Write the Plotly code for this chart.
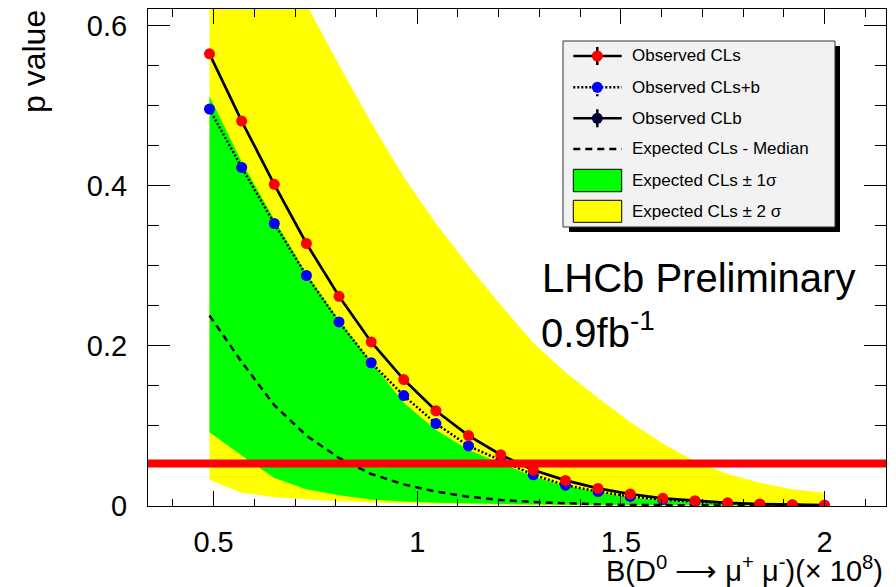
import plotly.graph_objects as go

# ---------------- data ----------------
x_vals = [0.490, 0.569, 0.649, 0.728, 0.808, 0.887, 0.967, 1.046, 1.126, 1.205,
          1.285, 1.364, 1.444, 1.523, 1.603, 1.682, 1.762, 1.841, 1.921, 2.000]

cls_obs = [0.565, 0.481, 0.402, 0.328, 0.262, 0.205, 0.158, 0.119, 0.088, 0.064,
           0.045, 0.032, 0.022, 0.015, 0.0096, 0.0066, 0.0040, 0.0025, 0.0016, 0.0010]

clsb_obs = [0.496, 0.423, 0.353, 0.288, 0.230, 0.179, 0.138, 0.103, 0.075, 0.057,
            0.039, 0.026, 0.018, 0.012, 0.0080, 0.0055, 0.0033, 0.0020, 0.0013, 0.0008]

exp_median = [0.238, 0.180, 0.126, 0.088, 0.060, 0.040, 0.027, 0.018, 0.0115, 0.0075,
              0.0050, 0.0032, 0.0021, 0.0014, 0.0009, 0.0006, 0.0004, 0.0003, 0.0002, 0.0001]

band1_hi = [0.512, 0.430, 0.358, 0.290, 0.232, 0.180, 0.129, 0.095, 0.070, 0.054,
            0.037, 0.025, 0.017, 0.011, 0.0070, 0.0045, 0.0030, 0.0020, 0.0013, 0.0010]
band1_lo = [0.092, 0.063, 0.035, 0.021, 0.0133, 0.0080, 0.0055, 0.0040, 0.0030, 0.0025,
            0.0020, 0.0015, 0.0012, 0.0010, 0.0008, 0.0006, 0.0005, 0.0004, 0.0003, 0.0002]

band2_hi = [0.900, 0.800, 0.710, 0.627, 0.551, 0.479, 0.411, 0.353, 0.300, 0.251,
            0.204, 0.167, 0.135, 0.105, 0.078, 0.056, 0.040, 0.029, 0.021, 0.0167]
band2_lo = [0.0325, 0.0167, 0.0110, 0.0083, 0.0058, 0.0045, 0.0035, 0.0028, 0.0020, 0.0015,
            0.0010, 0.0008, 0.0006, 0.0005, 0.0004, 0.0003, 0.0002, 0.0002, 0.0001, 0.0001]

cl_threshold = 0.053

legend_labels = ["Observed CLs", "Observed CLs+b", "Observed CLb",
                 "Expected CLs - Median", "Expected CLs \u00b1 1\u03c3", "Expected CLs \u00b1 2 \u03c3"]

x_range = [0.339, 2.151]
y_range = [0.0, 0.621]

# ---------------- layout geometry ----------------
W, H = 896, 587
L, R, T, B = 148, 10, 9, 81
PW = W - L - R
PH = H - T - B
FONT = "Liberation Sans, Arial, Helvetica, sans-serif"


def px2x(px):
    return (px - L) / PW


def py2y(py):
    return (H - B - py) / PH


fig = go.Figure()

# +-2 sigma band
fig.add_trace(go.Scatter(
    x=x_vals + x_vals[::-1], y=band2_hi + band2_lo[::-1],
    fill="toself", fillcolor="#ffff00", line=dict(width=0), mode="lines",
    hoverinfo="skip", showlegend=False))
# +-1 sigma band
fig.add_trace(go.Scatter(
    x=x_vals + x_vals[::-1], y=band1_hi + band1_lo[::-1],
    fill="toself", fillcolor="#00ff00", line=dict(width=0), mode="lines",
    hoverinfo="skip", showlegend=False))
# median
fig.add_trace(go.Scatter(
    x=x_vals, y=exp_median, mode="lines",
    line=dict(color="black", width=2.5, dash="7px,5px"), showlegend=False))
# CLs+b dotted line
fig.add_trace(go.Scatter(
    x=x_vals, y=clsb_obs, mode="lines",
    line=dict(color="black", width=2.5, dash="2px,2px"), showlegend=False))
# CLs solid line
fig.add_trace(go.Scatter(
    x=x_vals, y=cls_obs, mode="lines",
    line=dict(color="black", width=2.7), showlegend=False))
# markers
fig.add_trace(go.Scatter(
    x=x_vals, y=clsb_obs, mode="markers",
    marker=dict(color="#0000ff", size=11, line=dict(width=0)), showlegend=False))
fig.add_trace(go.Scatter(
    x=x_vals, y=cls_obs, mode="markers",
    marker=dict(color="#ff0000", size=11, line=dict(width=0)), showlegend=False))

shapes = []
# 95% CL line
shapes.append(dict(type="line", xref="paper", yref="y", x0=0, x1=1,
                   y0=cl_threshold, y1=cl_threshold,
                   line=dict(color="#ff0000", width=8), layer="above"))

# legend box with shadow
shapes.append(dict(type="rect", xref="paper", yref="paper",
                   x0=px2x(569), x1=px2x(840), y0=py2y(232), y1=py2y(46),
                   fillcolor="black", line=dict(width=0), layer="above"))
shapes.append(dict(type="rect", xref="paper", yref="paper",
                   x0=px2x(563), x1=px2x(835), y0=py2y(227), y1=py2y(41),
                   fillcolor="#f2f2f2", line=dict(color="#333333", width=1), layer="above"))

rows = [56, 87.3, 118.3, 149, 180, 211]
sx0, sx1, mx = 573.3, 621.7, 597.3
annotations = []


def pline(x0, y0, x1, y1, color="black", width=2.5, dash="solid"):
    shapes.append(dict(type="line", xref="paper", yref="paper",
                       x0=px2x(x0), x1=px2x(x1), y0=py2y(y0), y1=py2y(y1),
                       line=dict(color=color, width=width, dash=dash), layer="above"))


def pcircle(cx, cy, r, color):
    shapes.append(dict(type="circle", xref="paper", yref="paper",
                       x0=px2x(cx - r), x1=px2x(cx + r), y0=py2y(cy + r), y1=py2y(cy - r),
                       fillcolor=color, line=dict(width=0), layer="above"))


def prect(x0, y0, x1, y1, color):
    shapes.append(dict(type="rect", xref="paper", yref="paper",
                       x0=px2x(x0), x1=px2x(x1), y0=py2y(y1), y1=py2y(y0),
                       fillcolor=color, line=dict(color="black", width=1), layer="above"))


# row 1: observed CLs
pline(sx0, rows[0], sx1, rows[0])
pline(mx, rows[0] - 9, mx, rows[0] + 9)
pcircle(mx, rows[0], 5.5, "#ff0000")
# row 2: observed CLs+b
pline(sx0, rows[1], sx1, rows[1], dash="2px,2px")
pline(mx, rows[1] + 3, mx, rows[1] + 9, dash="2px,2px")
pcircle(mx, rows[1], 5.5, "#0000ff")
# row 3: observed CLb
pline(sx0, rows[2], sx1, rows[2])
pline(mx, rows[2] - 9, mx, rows[2] + 9)
pcircle(mx, rows[2], 5.5, "#00003a")
# row 4: median
pline(sx0, rows[3], sx1, rows[3], dash="7px,5px")
# rows 5,6: bands
prect(sx0, 169.3, sx1, 191.7, "#00ff00")
prect(sx0, 200.3, sx1, 222.3, "#ffff00")

for lab, ry in zip(legend_labels, rows):
    annotations.append(dict(text=lab, xref="paper", yref="paper",
                            x=px2x(630), y=py2y(ry), xanchor="left", yanchor="middle",
                            showarrow=False, font=dict(family=FONT, size=17, color="black")))

# LHCb text
annotations.append(dict(text="LHCb Preliminary", xref="paper", yref="paper",
                        x=px2x(540), y=py2y(278), xanchor="left", yanchor="middle",
                        showarrow=False, font=dict(family=FONT, size=40, color="black")))
annotations.append(dict(text="0.9fb<sup>-1</sup>", xref="paper", yref="paper",
                        x=px2x(539), y=py2y(330), xanchor="left", yanchor="middle",
                        showarrow=False, font=dict(family=FONT, size=40, color="black")))
# axis titles
annotations.append(dict(text="B(D<sup>0</sup> \u27f6 \u03bc<sup>+</sup> \u03bc<sup>-</sup>)(\u00d7 10<sup>8</sup>)",
                        xref="paper", yref="paper",
                        x=px2x(885), y=py2y(569), xanchor="right", yanchor="middle",
                        showarrow=False, font=dict(family=FONT, size=29, color="black")))
annotations.append(dict(text="p value", xref="paper", yref="paper",
                        x=px2x(34), y=py2y(62), xanchor="center", yanchor="middle",
                        textangle=-90, showarrow=False,
                        font=dict(family=FONT, size=32, color="black")))

axis_common = dict(showgrid=False, zeroline=False, showline=True, linecolor="black",
                   linewidth=1, mirror="allticks", ticks="inside", tickcolor="black",
                   tickwidth=1, tickfont=dict(family=FONT, size=29, color="black"))

fig.update_layout(
    width=W, height=H, margin=dict(l=L, r=R, t=T, b=B),
    paper_bgcolor="white", plot_bgcolor="white", showlegend=False,
    xaxis=dict(range=x_range, tickmode="linear", tick0=0, dtick=0.5, ticklen=15,
               minor=dict(dtick=0.1, tick0=0, ticklen=7.5, ticks="inside", tickcolor="black",
                          tickwidth=1, showgrid=False),
               ticklabelstandoff=10, **axis_common),
    yaxis=dict(range=y_range, tickmode="linear", tick0=0, dtick=0.2, ticklen=22,
               minor=dict(dtick=0.05, tick0=0, ticklen=11, ticks="inside", tickcolor="black",
                          tickwidth=1, showgrid=False),
               ticklabelstandoff=14, **axis_common),
    shapes=shapes, annotations=annotations,
)

fig.write_html("out.html", config={"displayModeBar": False},
               post_script="document.body.style.margin='0';")
